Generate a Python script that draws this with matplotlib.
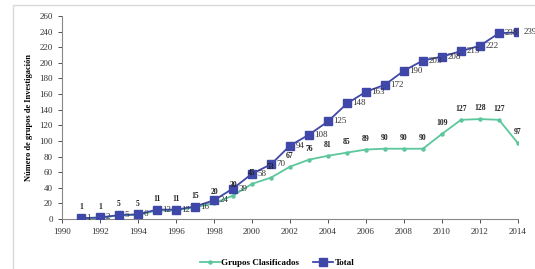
import matplotlib
matplotlib.use("Agg")
import matplotlib.pyplot as plt
from matplotlib.patches import Rectangle

years = list(range(1991, 2015))
clasificados = [1, 1, 5, 5, 11, 11, 15, 20, 30, 45, 53, 67, 76, 81, 85, 89, 90, 90, 90, 109, 127, 128, 127, 97]
total = [1, 2, 5, 6, 12, 12, 16, 24, 39, 58, 70, 94, 108, 125, 148, 163, 172, 190, 203, 208, 215, 222, 238, 239]
xticks = list(range(1990, 2015, 2))
yticks = list(range(0, 261, 20))

plt.rcParams['font.family'] = ['Liberation Serif', 'DejaVu Serif']

fig = plt.figure(figsize=(5.35, 2.69), dpi=100)
fig.patches.append(Rectangle((13/535, -0.1), 1.2, 1 - 5/269 + 0.1, transform=fig.transFigure,
                             fill=False, edgecolor='#d9d9d9', linewidth=1.0))
ax = fig.add_axes([62/535, 1 - 219/269, (518 - 62)/535, (219 - 16)/269])

green = '#5cc79c'
blue = '#3f48a8'
ax.plot(years, clasificados, color=green, marker='o', markersize=2.2, linewidth=1.3,
        label='Grupos Clasificados', zorder=3)
ax.plot(years, total, color=blue, marker='s', markersize=5.5, linewidth=1.3,
        label='Total', zorder=4)

for x, v in zip(years, clasificados):
    ax.annotate(str(v), (x, v), xytext=(0, 5), textcoords='offset points', ha='center',
                va='bottom', fontsize=5.5, fontweight='bold', color='#222222', zorder=5)
for x, v in zip(years, total):
    ax.annotate(str(v), (x, v), xytext=(4, 0), textcoords='offset points', ha='left',
                va='center', fontsize=6.5, color='#333333', zorder=5, annotation_clip=False)

ax.set_xlim(1990, 2014)
ax.set_ylim(0, 260)
ax.set_xticks(xticks)
ax.set_yticks(yticks)
ax.tick_params(axis='both', labelsize=6.5, colors='#333333', length=3, width=0.6, direction='out')
for s in ['top', 'right']:
    ax.spines[s].set_visible(False)
for s in ['left', 'bottom']:
    ax.spines[s].set_color('#888888')
    ax.spines[s].set_linewidth(0.8)
ax.set_ylabel('Número de grupos de Investigación', fontsize=6, fontweight='bold', labelpad=5)

fig.legend(loc='center', bbox_to_anchor=(277/535, 1 - 263/269), ncol=2, frameon=False,
           prop={'weight': 'bold', 'size': 6.5}, handlelength=2.2,
           columnspacing=1.5, handletextpad=0.2)

fig.savefig('out.png', dpi=100)
